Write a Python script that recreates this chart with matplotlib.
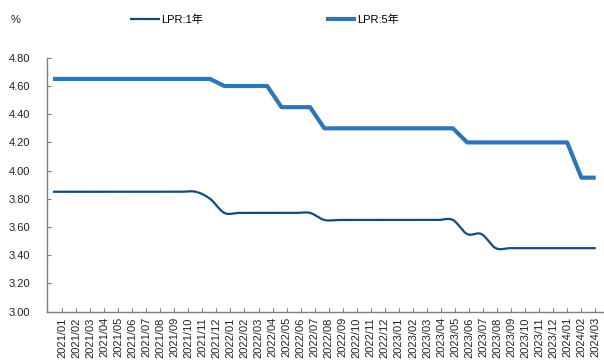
import numpy as np
import matplotlib
matplotlib.use("Agg")
import matplotlib.pyplot as plt

plt.rcParams['font.family'] = ['Liberation Sans', 'Noto Sans CJK SC', 'DejaVu Sans']

months = ['2021/01', '2021/02', '2021/03', '2021/04', '2021/05', '2021/06', '2021/07',
          '2021/08', '2021/09', '2021/10', '2021/11', '2021/12',
          '2022/01', '2022/02', '2022/03', '2022/04', '2022/05', '2022/06', '2022/07',
          '2022/08', '2022/09', '2022/10', '2022/11', '2022/12',
          '2023/01', '2023/02', '2023/03', '2023/04', '2023/05', '2023/06', '2023/07',
          '2023/08', '2023/09', '2023/10', '2023/11', '2023/12',
          '2024/01', '2024/02', '2024/03']

lpr_1y = [3.85, 3.85, 3.85, 3.85, 3.85, 3.85, 3.85, 3.85, 3.85, 3.85, 3.85, 3.80,
          3.70, 3.70, 3.70, 3.70, 3.70, 3.70, 3.70, 3.65, 3.65, 3.65, 3.65, 3.65,
          3.65, 3.65, 3.65, 3.65, 3.65, 3.55, 3.55, 3.45, 3.45, 3.45, 3.45, 3.45,
          3.45, 3.45, 3.45]

lpr_5y = [4.65, 4.65, 4.65, 4.65, 4.65, 4.65, 4.65, 4.65, 4.65, 4.65, 4.65, 4.65,
          4.60, 4.60, 4.60, 4.60, 4.45, 4.45, 4.45, 4.30, 4.30, 4.30, 4.30, 4.30,
          4.30, 4.30, 4.30, 4.30, 4.30, 4.20, 4.20, 4.20, 4.20, 4.20, 4.20, 4.20,
          4.20, 3.95, 3.95]


def smooth(y, steps=20):
    # Catmull-Rom curve through the points (same look as a spreadsheet "smoothed line")
    y = np.asarray(y, dtype=float)
    p = np.concatenate([[y[0]], y, [y[-1]]])
    xs, ys = [], []
    t = np.linspace(0, 1, steps, endpoint=False)
    for i in range(len(y) - 1):
        p0, p1, p2, p3 = p[i], p[i + 1], p[i + 2], p[i + 3]
        seg = 0.5 * ((2 * p1) + (-p0 + p2) * t + (2 * p0 - 5 * p1 + 4 * p2 - p3) * t ** 2
                     + (-p0 + 3 * p1 - 3 * p2 + p3) * t ** 3)
        xs.append(i + t)
        ys.append(seg)
    xs.append([len(y) - 1])
    ys.append([y[-1]])
    return np.concatenate(xs), np.concatenate(ys)


x = np.arange(len(months))
sx, sy = smooth(lpr_1y)

fig = plt.figure(figsize=(6.04, 3.6), dpi=100)
ax = fig.add_axes([0.0773, 0.1344, 0.922, 0.705])

c1 = '#114b7d'
c5 = '#2f76b8'
ax.plot(sx, sy, color=c1, lw=1.6, label='LPR:1年', solid_capstyle='butt')
ax.plot(x, lpr_5y, color=c5, lw=3.0, label='LPR:5年', solid_capstyle='butt')

ax.set_ylim(3.0, 4.8)
ax.set_yticks(np.arange(3.0, 4.81, 0.2))
ax.set_yticklabels([f'{v:.2f}' for v in np.arange(3.0, 4.81, 0.2)], fontsize=8)
ax.set_xlim(-0.44, 38.55)
# month labels sit on a slightly tighter grid than the data points
ax.set_xticks(0.63 + 0.983 * x)
ax.set_xticklabels(months, rotation=90, fontsize=8)

for s in ['top', 'right']:
    ax.spines[s].set_visible(False)
for s in ['left', 'bottom']:
    ax.spines[s].set_color('#7f7f7f')
    ax.spines[s].set_linewidth(1.0)
ax.tick_params(axis='both', direction='in', length=3, color='#7f7f7f', labelcolor='#222222')
ax.tick_params(axis='y', pad=12)
ax.tick_params(axis='x', pad=4)

fig.text(0.017, 0.944, '%', fontsize=8, color='#222222', va='center')
fig.legend(loc='center left', bbox_to_anchor=(130 / 604, 1 - 20 / 360), ncol=2,
           frameon=False, fontsize=8, handlelength=2.7, handletextpad=0.1,
           columnspacing=11.1, borderpad=0, borderaxespad=0)

fig.savefig('out.png', dpi=100)
